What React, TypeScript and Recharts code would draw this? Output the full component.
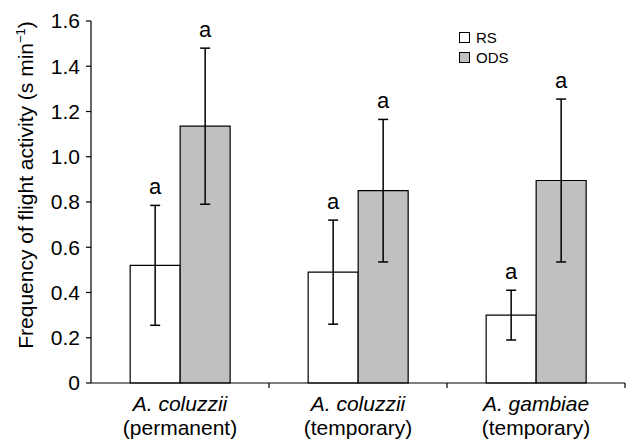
import { Bar, BarChart, ErrorBar, LabelList, XAxis, YAxis } from "recharts";

const species = ["A. coluzzii", "A. coluzzii", "A. gambiae"];
const habitats = ["(permanent)", "(temporary)", "(temporary)"];
const rsValues = [0.52, 0.49, 0.3];
const rsErrors = [0.265, 0.23, 0.11];
const odsValues = [1.135, 0.85, 0.895];
const odsErrors = [0.345, 0.315, 0.36];
const rsLetters = ["a", "a", "a"];
const odsLetters = ["a", "a", "a"];
const yTicks = [0, 0.2, 0.4, 0.6, 0.8, 1.0, 1.2, 1.4, 1.6];
const seriesNames = ["RS", "ODS"];

const RS_COLOR = "#ffffff";
const ODS_COLOR = "#c0c0c0";
const FONT = "'Liberation Sans', Arial, sans-serif";

const WIDTH = 626;
const HEIGHT = 441;
const MARGIN = { top: 21, right: 1, bottom: 0, left: 0 };
const Y_AXIS_WIDTH = 91;
const X_AXIS_HEIGHT = 58;
const BAND = (WIDTH - MARGIN.left - MARGIN.right - Y_AXIS_WIDTH) / species.length;

const data = species.map((s, i) => ({
  key: `${s} ${habitats[i]}`,
  rs: rsValues[i],
  rsErr: rsErrors[i],
  ods: odsValues[i],
  odsErr: odsErrors[i],
}));

function CategoryTick(props: any) {
  const { x, y, payload } = props;
  const i = data.findIndex((d) => d.key === payload.value);
  return (
    <g>
      <line x1={x + BAND / 2} x2={x + BAND / 2} y1={y} y2={y + 5} stroke="#000" strokeWidth={1.2} />
      <text x={x} y={y + 28} textAnchor="middle" fontFamily={FONT} fontSize={21} fontStyle="italic" fill="#000">
        {species[i]}
      </text>
      <text x={x} y={y + 52} textAnchor="middle" fontFamily={FONT} fontSize={21} fill="#000">
        {habitats[i]}
      </text>
    </g>
  );
}

// letter sits above the top of the error bar
function letterLabel(values: number[], errors: number[], letters: string[]) {
  return (props: any) => {
    const { x, y, width, height, index } = props;
    const pxPerUnit = height / values[index];
    const top = y - errors[index] * pxPerUnit;
    return (
      <text x={x + width / 2} y={top - 11} textAnchor="middle" fontFamily={FONT} fontSize={22} fill="#000">
        {letters[index]}
      </text>
    );
  };
}

function YLabel(props: any) {
  const { viewBox } = props;
  const cx = 33;
  const cy = viewBox.y + viewBox.height / 2 - 17;
  return (
    <text
      x={cx}
      y={cy}
      transform={`rotate(-90, ${cx}, ${cy})`}
      textAnchor="middle"
      fontFamily={FONT}
      fontSize={21}
      fill="#000"
    >
      Frequency of flight activity (s min
      <tspan fontSize={13} dy={-8}>−1</tspan>
      <tspan dy={8}>)</tspan>
    </text>
  );
}

function ChartLegend() {
  const colors = [RS_COLOR, ODS_COLOR];
  return (
    <div style={{ position: "absolute", left: 459, top: 27, fontFamily: FONT, fontSize: 15 }}>
      {seriesNames.map((name, i) => (
        <div key={name} style={{ display: "flex", alignItems: "center", height: 20 }}>
          <span
            style={{
              display: "inline-block",
              width: 9,
              height: 9,
              border: "1.2px solid #000",
              background: colors[i],
              marginRight: 6,
            }}
          />
          {name}
        </div>
      ))}
    </div>
  );
}

export default function App() {
  return (
    <div style={{ position: "absolute", left: 0, top: 0, width: WIDTH, height: HEIGHT, background: "#fff" }}>
      <BarChart
        width={WIDTH}
        height={HEIGHT}
        data={data}
        margin={MARGIN}
        barCategoryGap="22%"
        barGap={0}
      >
        <XAxis
          dataKey="key"
          height={X_AXIS_HEIGHT}
          tickSize={0}
          tickMargin={0}
          tickLine={false}
          axisLine={{ stroke: "#000", strokeWidth: 1.2 }}
          tick={<CategoryTick />}
          interval={0}
        />
        <YAxis
          width={Y_AXIS_WIDTH}
          domain={[0, 1.6]}
          ticks={yTicks}
          tickFormatter={(v: number) => (v === 0 ? "0" : v.toFixed(1))}
          tick={{ fill: "#000", fontSize: 21, fontFamily: FONT }}
          tickSize={5}
          tickMargin={6}
          tickLine={{ stroke: "#000", strokeWidth: 1.2 }}
          axisLine={{ stroke: "#000", strokeWidth: 1.2 }}
          label={<YLabel />}
        />
        <Bar dataKey="rs" name={seriesNames[0]} fill={RS_COLOR} stroke="#000" strokeWidth={1.2} isAnimationActive={false}>
          <ErrorBar dataKey="rsErr" width={5} stroke="#000" strokeWidth={1.5} />
          <LabelList dataKey="rs" content={letterLabel(rsValues, rsErrors, rsLetters)} />
        </Bar>
        <Bar dataKey="ods" name={seriesNames[1]} fill={ODS_COLOR} stroke="#000" strokeWidth={1.2} isAnimationActive={false}>
          <ErrorBar dataKey="odsErr" width={5} stroke="#000" strokeWidth={1.5} />
          <LabelList dataKey="ods" content={letterLabel(odsValues, odsErrors, odsLetters)} />
        </Bar>
      </BarChart>
      <ChartLegend />
    </div>
  );
}
